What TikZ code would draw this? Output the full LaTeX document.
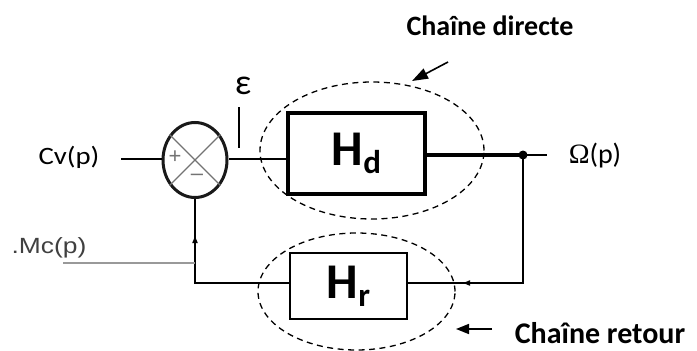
\documentclass[tikz,border=0pt]{standalone}
\usepackage{fontspec}
\setmainfont{Carlito}
\newfontfamily\omegafont{Liberation Serif}
\newfontfamily\scanfont{Liberation Sans}
\usetikzlibrary{shapes.geometric,arrows.meta}
\begin{document}
\begin{tikzpicture}[x=1pt,y=-1pt,
  sig/.style={line width=2.8pt,black},
  fbline/.style={line width=2.4pt,black},
  blockbox/.style={draw,rectangle,line width=3.2pt,inner sep=0pt,fill=white},
  grp/.style={draw,ellipse,dash pattern=on 6pt off 4.5pt,line width=1.3pt,inner sep=0pt},
  lbl/.style={inner sep=0pt},
  bigarrow/.style={line width=1.6pt,-{Triangle[length=16pt,width=11pt]}},
  midarrow/.style={line width=2.4pt,black,-{Triangle[length=7pt,width=5pt]}},
  cross/.style={line width=1.1pt,black!55}]
\useasboundingbox (0,0) rectangle (697,351);

% summing junction
\node[draw,ellipse,line width=3pt,black!90,minimum width=64pt,minimum height=75pt,inner sep=0pt] (sum) at (195,160) {};
\draw[cross] (sum.45) -- (sum.225);
\draw[cross] (sum.135) -- (sum.315);
\node[lbl,text=black!55] (plus) at (175,157) {\fontsize{22}{22}\selectfont\scanfont +};
\node[lbl,text=black!55] (minus) at (197,177) {\fontsize{22}{22}\selectfont\scanfont \textendash};

% blocks
\node[blockbox,minimum width=137pt,minimum height=81pt] (Hd) at (356.5,153.5)
  {\fontsize{50}{50}\selectfont\bfseries H\raisebox{-8pt}{\fontsize{33}{33}\selectfont d}};
\node[blockbox,line width=2.6pt,minimum width=117pt,minimum height=66pt] (Hr) at (348.5,286)
  {\fontsize{50}{50}\selectfont\bfseries H\raisebox{-8pt}{\fontsize{33}{33}\selectfont r}};

% dashed groups
\node[grp,minimum width=224pt,minimum height=137pt] (gd) at (372,150.5) {};
\node[grp,minimum width=197pt,minimum height=117pt] (gr) at (356.5,291.5) {};

% coordinates
\coordinate (in) at (121,159);
\coordinate (out) at (547,155);
\fill (523,155) circle (4.5pt) coordinate (dot);
\coordinate (fbR) at (523,283);
\coordinate (fbM) at (463,283);
\coordinate (fbL) at (195,283);
\coordinate (fbU) at (195,236);
\coordinate (epsT) at (239,107);
\coordinate (epsB) at (239,148);
\coordinate (mcS) at (63,263);
\coordinate (mcE) at (195,263);

% signal lines
\draw[sig] (in) -- (sum.west |- in);
\draw[sig] (sum.east |- in) -- (Hd.west |- in);
\draw[sig,line width=3.4pt] (Hd.east |- dot) -- (dot);
\draw[sig] (dot) -- (out);
\draw[fbline] (dot) -- (fbR) -- (fbM);
\draw[midarrow] (fbR) -- (fbM);
\draw[fbline] (fbM) -- (Hr.east |- fbM);
\draw[fbline] (Hr.west |- fbL) -- (fbL) -- (sum.south);
\draw[midarrow] (fbL) -- (fbU);
\draw[line width=1.4pt,black] (epsT) -- (epsB);
\draw[line width=1.2pt,black!40] (mcS) -- (mcE);

% labels
\node[lbl] (cv) at (69,157) {\scalebox{1.15}[1]{\fontsize{25}{25}\selectfont Cv(p)}};
\node[lbl,text=black!75] (mc) at (49,248) {\scalebox{1.2}[1]{\fontsize{22}{22}\selectfont\scanfont .Mc(p)}};
\node[lbl] (eps) at (243,86) {\fontsize{36}{36}\selectfont ε};
\node[lbl] (om) at (595,156) {\fontsize{28}{28}\selectfont{\omegafont Ω}(p)};
\node[lbl] (cd) at (490,26) {\fontsize{28}{28}\selectfont\bfseries Chaîne directe};
\node[lbl] (cr) at (600,333) {\fontsize{30}{30}\selectfont\bfseries Chaîne retour};

% pointer arrows
\coordinate (adS) at (448,62);
\coordinate (adE) at (412,81);
\draw[bigarrow] (adS) -- (adE);
\coordinate (arS) at (492,329);
\coordinate (arE) at (456,329);
\draw[bigarrow,-{Triangle[length=13pt,width=10pt]}] (arS) -- (arE);
\end{tikzpicture}
\end{document}
